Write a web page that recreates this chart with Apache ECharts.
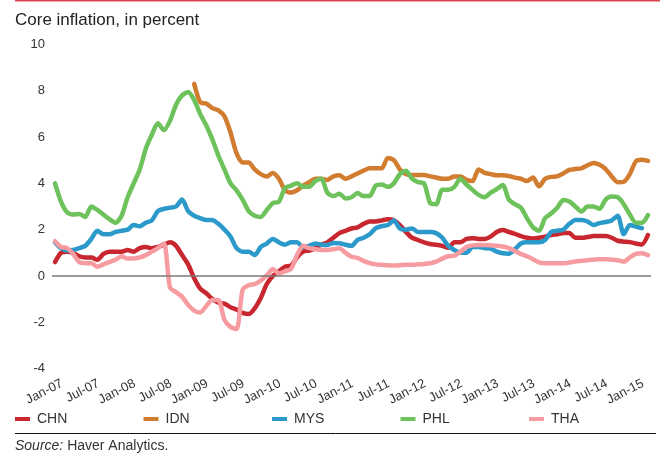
<!DOCTYPE html>
<html>
<head>
<meta charset="utf-8">
<script src="https://cdn.jsdelivr.net/npm/echarts@6/dist/echarts.min.js"></script>
<style>
html,body{margin:0;padding:0;background:#fff}
#chart{width:660px;height:455px}
</style>
</head>
<body>
<div id="chart"></div>
<script>
// months Jan-07 .. Mar-15
var monthNames = ['Jan','Feb','Mar','Apr','May','Jun','Jul','Aug','Sep','Oct','Nov','Dec'];
var months = [];
for( var y = 7; y <= 15; y++ ){
	for( var k = 0; k < 12; k++ ){
		if( y == 15 && k > 2 ) break;
		months.push( monthNames[k] + '-' + (y < 10 ? '0' + y : y) );
	}
}

var seriesNames = ['CHN', 'IDN', 'MYS', 'PHL', 'THA'];
var seriesColors = ['#c8272f', '#d17c2f', '#2b9aca', '#6dc25b', '#f69ca1'];

var chn = [0.6,1.0,1.05,1.0,0.85,0.8,0.8,0.7,0.95,1.05,
	1.05,1.05,1.12,1.05,1.2,1.25,1.2,1.25,1.35,1.45,
	1.3,0.9,0.5,-0.1,-0.55,-0.75,-1.0,-1.15,-1.2,-1.35,
	-1.45,-1.6,-1.65,-1.4,-0.95,-0.35,0.0,0.2,0.4,0.45,
	0.8,1.05,1.1,1.2,1.35,1.45,1.65,1.85,1.95,2.05,
	2.1,2.25,2.35,2.35,2.4,2.45,2.4,2.2,1.9,1.65,
	1.55,1.45,1.38,1.35,1.3,1.22,1.45,1.45,1.6,1.63,
	1.6,1.6,1.7,1.9,1.98,1.9,1.82,1.72,1.65,1.62,
	1.65,1.7,1.77,1.8,1.85,1.85,1.65,1.65,1.68,1.72,
	1.72,1.72,1.65,1.52,1.48,1.46,1.4,1.36,1.77];

var idn = [null,null,null,null,null,null,null,null,null,null,
	null,null,null,null,null,null,null,null,null,null,
	null,null,null,8.3,7.5,7.45,7.25,7.15,6.9,6.2,
	5.3,4.9,4.9,4.6,4.4,4.3,4.45,4.2,3.7,3.6,
	3.7,3.9,4.05,4.2,4.2,4.15,4.3,4.35,4.2,4.3,
	4.43,4.55,4.65,4.65,4.65,5.1,5.0,4.6,4.4,4.36,
	4.36,4.36,4.3,4.25,4.2,4.2,4.3,4.3,4.15,4.1,
	4.6,4.45,4.4,4.35,4.35,4.32,4.25,4.2,4.1,4.25,
	3.87,4.2,4.28,4.3,4.43,4.58,4.62,4.65,4.78,4.88,
	4.8,4.62,4.3,4.05,4.07,4.4,4.95,5.02,4.97];

var mys = [1.45,1.2,1.1,1.12,1.2,1.3,1.6,1.95,1.8,1.8,
	1.9,1.95,2.0,2.2,2.15,2.3,2.4,2.8,2.9,2.95,
	3.0,3.3,2.8,2.6,2.5,2.42,2.42,2.25,2.0,1.7,
	1.2,1.05,1.05,0.9,1.25,1.4,1.6,1.45,1.35,1.45,
	1.45,1.25,1.3,1.4,1.35,1.34,1.42,1.41,1.35,1.3,
	1.56,1.65,1.8,2.06,2.15,2.2,2.4,2.05,2.0,2.05,
	1.9,1.9,1.9,1.85,1.65,1.3,1.12,1.0,1.0,1.25,
	1.25,1.2,1.18,1.05,0.98,0.96,1.15,1.4,1.45,1.45,
	1.45,1.55,1.9,1.95,2.0,2.25,2.42,2.42,2.35,2.2,
	2.28,2.33,2.4,2.6,1.8,2.2,2.13,2.06,null];

var phl = [4.0,3.2,2.75,2.65,2.68,2.55,3.0,2.85,2.65,2.45,
	2.3,2.6,3.4,4.0,4.6,5.5,6.1,6.6,6.3,6.7,
	7.4,7.8,7.95,7.6,7.0,6.5,5.9,5.2,4.6,4.0,
	3.7,3.3,2.8,2.6,2.55,2.85,3.15,3.2,3.8,3.9,
	4.0,3.85,3.85,4.1,4.2,3.6,3.45,3.55,3.35,3.4,
	3.58,3.45,3.45,3.9,3.95,3.85,4.0,4.4,4.55,4.2,
	4.05,4.0,3.15,3.1,3.72,3.72,3.85,4.2,3.95,3.72,
	3.5,3.4,3.6,3.75,3.93,3.3,3.1,2.95,2.5,2.1,
	1.95,2.5,2.7,2.95,3.28,3.22,3.0,2.78,3.0,3.0,
	2.9,3.3,3.43,3.4,3.1,2.65,2.3,2.3,2.63];

var tha = [1.5,1.25,1.2,0.95,0.6,0.55,0.55,0.4,0.5,0.6,
	0.7,0.85,0.75,0.75,0.8,0.9,1.05,1.2,1.4,-0.5,
	-0.7,-0.9,-1.25,-1.5,-1.58,-1.3,-1.04,-1.04,-1.9,-2.2,
	-2.3,-0.6,-0.4,-0.35,-0.2,0.02,0.3,0.1,0.2,0.3,
	0.9,1.3,1.2,1.15,1.12,1.12,1.15,1.2,1.0,0.83,
	0.78,0.65,0.55,0.5,0.48,0.46,0.45,0.46,0.48,0.48,
	0.5,0.52,0.55,0.62,0.75,0.85,0.88,1.05,1.25,1.32,
	1.34,1.34,1.33,1.3,1.27,1.2,1.08,0.95,0.85,0.72,
	0.58,0.55,0.55,0.55,0.55,0.58,0.62,0.65,0.68,0.7,
	0.72,0.72,0.7,0.68,0.62,0.8,0.95,0.98,0.9];

var seriesData = [chn, idn, mys, phl, tha];

var yTicks = {min: -4, max: 10, interval: 2};

var chart = echarts.init( document.getElementById( 'chart' ), null, {renderer: 'canvas'} );

var series = [];
for( var i = 0; i < seriesNames.length; i++ ){
	var s = {
		name: seriesNames[i],
		type: 'line',
		data: seriesData[i],
		showSymbol: false,
		symbol: 'none',
		smooth: 0.25,
		connectNulls: false,
		color: seriesColors[i],
		lineStyle: {width: 4.5, color: seriesColors[i], cap: 'round', join: 'round'},
		animation: false
	};
	if( i == 0 ){
		s.markLine = {
			silent: true,
			symbol: ['none', 'none'],
			label: {show: false},
			lineStyle: {color: '#7a7a7a', width: 1.5, type: 'solid'},
			data: [{yAxis: 0}]
		};
	}
	series.push( s );
}

var legends = [];
for( var i = 0; i < seriesNames.length; i++ ){
	legends.push( {
		data: [seriesNames[i]],
		left: 15 + i * 128.5,
		top: 412,
		padding: 0,
		icon: 'rect',
		itemWidth: 15,
		itemHeight: 4,
		selectedMode: false,
		textStyle: {fontSize: 14, color: '#333', fontFamily: 'Liberation Sans', padding: [0, 0, 0, 2]}
	} );
}

chart.setOption( {
	animation: false,
	title: {
		text: 'Core inflation, in percent',
		left: 10,
		top: 7,
		textStyle: {fontSize: 17, fontWeight: 'normal', color: '#222', fontFamily: 'Liberation Sans'}
	},
	legend: legends,
	grid: {left: 52, right: 9, top: 44.5, bottom: 86.5, containLabel: false},
	xAxis: {
		type: 'category',
		data: months,
		boundaryGap: true,
		axisLine: {show: false},
		axisTick: {show: false},
		axisLabel: {interval: 5, rotate: 27, fontSize: 13, color: '#333', margin: 18, padding: [0, -8, 0, 0], fontFamily: 'Liberation Sans'}
	},
	yAxis: {
		type: 'value',
		min: yTicks.min,
		max: yTicks.max,
		interval: yTicks.interval,
		axisLine: {show: false},
		axisTick: {show: false},
		splitLine: {show: false},
		axisLabel: {fontSize: 13, color: '#333', margin: 7, fontFamily: 'Liberation Sans'}
	},
	graphic: [
		{type: 'rect', shape: {x: 15, y: 0, width: 645, height: 1.5}, style: {fill: '#d9444b'}},
		{type: 'line', shape: {x1: 15, y1: 433.5, x2: 656, y2: 433.5}, style: {stroke: '#111', lineWidth: 1}},
		{
			type: 'text', left: 15, top: 439,
			style: {
				text: '{i|Source:} Haver Analytics.',
				fontSize: 14, fill: '#333', fontFamily: 'Liberation Sans',
				rich: {i: {fontStyle: 'italic', fontSize: 14, fontFamily: 'Liberation Sans'}}
			}
		}
	],
	series: series
} );
</script>
</body>
</html>
